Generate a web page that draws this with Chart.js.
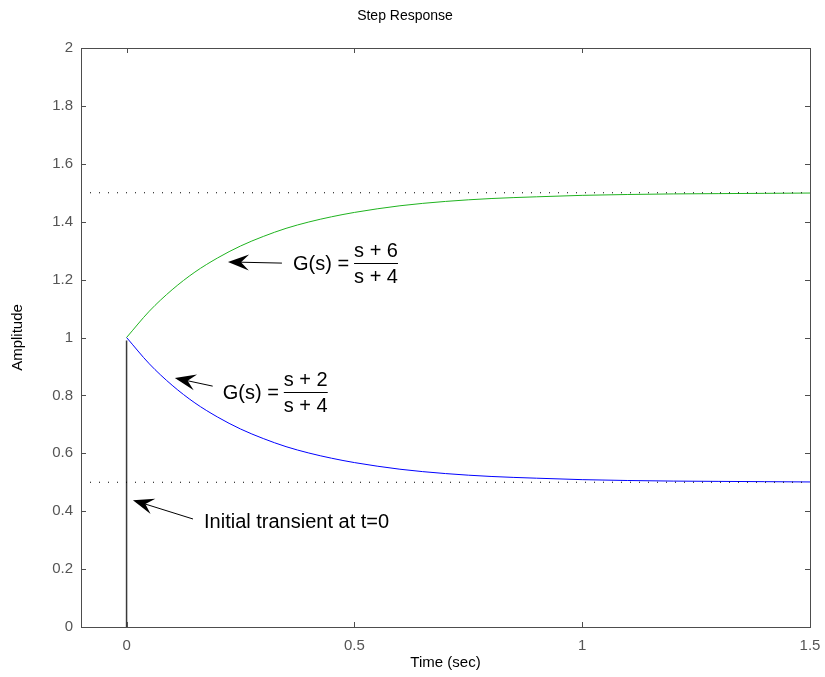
<!DOCTYPE html>
<html>
<head>
<meta charset="utf-8">
<title>Step Response</title>
<script src="https://cdn.jsdelivr.net/npm/chart.js@4/dist/chart.umd.min.js"></script>
<style>
  html, body { margin: 0; padding: 0; background: #fff; }
  #wrap { width: 825px; height: 677px; }
</style>
</head>
<body>
<div id="wrap"><canvas id="chart" width="825" height="677"></canvas></div>
<script>
// data
const timeValues = [0, 0.05, 0.1, 0.15, 0.2, 0.25, 0.3, 0.35, 0.4, 0.45, 0.5,
  0.6, 0.7, 0.8, 0.9, 1.0, 1.1, 1.2, 1.3, 1.4, 1.5];
const upperResponse = [1.0, 1.091, 1.165, 1.226, 1.275, 1.316, 1.349, 1.377, 1.399, 1.417, 1.432,
  1.455, 1.470, 1.480, 1.486, 1.491, 1.494, 1.496, 1.497, 1.498, 1.499];
const lowerResponse = [1.0, 0.909, 0.835, 0.774, 0.725, 0.684, 0.651, 0.623, 0.601, 0.583, 0.568,
  0.545, 0.530, 0.520, 0.514, 0.509, 0.506, 0.504, 0.503, 0.502, 0.501];
const transientTime = [0, 0];
const transientAmp = [0, 0.99];
const steadyLevels = [0.5, 1.5];
const xRange = [-0.1, 1.5];
const yRange = [0, 2];
const xTicks = [0, 0.5, 1, 1.5];
const xTickLabels = ['0', '0.5', '1', '1.5'];
const yTicks = [0, 0.2, 0.4, 0.6, 0.8, 1, 1.2, 1.4, 1.6, 1.8, 2];
const yTickLabels = ['0', '0.2', '0.4', '0.6', '0.8', '1', '1.2', '1.4', '1.6', '1.8', '2'];

// annotations (data coordinates)
const arrows = [
  { from: [0.341, 1.257], to: [0.2226, 1.261] },
  { from: [0.189, 0.832], to: [0.106, 0.860] },
  { from: [0.1458, 0.3731], to: [0.014, 0.438] }
];
const fractionNotes = [
  { at: [0.3652, 1.2573], num: 's + 6', den: 's + 4' },
  { at: [0.211, 0.8117], num: 's + 2', den: 's + 4' }
];
const plainNotes = [
  { at: [0.170, 0.3627], text: 'Initial transient at t=0' }
];

const FONT = 'Helvetica, "Liberation Sans", Arial, sans-serif';
const AXIS_COLOR = '#4d4d4d';

function pts(xs, ys) {
  return xs.map((x, i) => ({ x: x, y: ys[i] }));
}

const steadySets = steadyLevels.map(level => ({
  data: pts(xRange, [level, level]),
  borderColor: '#000',
  borderWidth: 1,
  borderDash: [1, 8],
  pointRadius: 0,
  tension: 0
}));

// frame, inward ticks, arrows and notes
const decorPlugin = {
  id: 'decor',
  afterDatasetsDraw(chart) {
    const { ctx, chartArea: a, scales: { x, y } } = chart;
    ctx.save();
    ctx.strokeStyle = AXIS_COLOR;
    ctx.lineWidth = 1;
    ctx.strokeRect(Math.round(a.left) + 0.5, Math.round(a.top) + 0.5,
      Math.round(a.right - a.left), Math.round(a.bottom - a.top));
    ctx.beginPath();
    xTicks.forEach(v => {
      const px = Math.round(x.getPixelForValue(v)) + 0.5;
      ctx.moveTo(px, a.bottom); ctx.lineTo(px, a.bottom - 5);
      ctx.moveTo(px, a.top); ctx.lineTo(px, a.top + 5);
    });
    yTicks.forEach(v => {
      const py = Math.round(y.getPixelForValue(v)) + 0.5;
      ctx.moveTo(a.left, py); ctx.lineTo(a.left + 5, py);
      ctx.moveTo(a.right, py); ctx.lineTo(a.right - 5, py);
    });
    ctx.stroke();

    // arrows
    ctx.strokeStyle = '#000';
    ctx.fillStyle = '#000';
    arrows.forEach(ar => {
      const x0 = x.getPixelForValue(ar.from[0]), y0 = y.getPixelForValue(ar.from[1]);
      const x1 = x.getPixelForValue(ar.to[0]), y1 = y.getPixelForValue(ar.to[1]);
      const len = Math.hypot(x1 - x0, y1 - y0);
      const ux = (x1 - x0) / len, uy = (y1 - y0) / len;
      const nx = -uy, ny = ux;
      const L = 21, W = 8;
      ctx.beginPath();
      ctx.moveTo(x0, y0);
      ctx.lineTo(x1 - ux * L * 0.6, y1 - uy * L * 0.6);
      ctx.stroke();
      ctx.beginPath();
      ctx.moveTo(x1, y1);
      ctx.lineTo(x1 - ux * L + nx * W, y1 - uy * L + ny * W);
      ctx.lineTo(x1 - ux * L * 0.62, y1 - uy * L * 0.62);
      ctx.lineTo(x1 - ux * L - nx * W, y1 - uy * L - ny * W);
      ctx.closePath();
      ctx.fill();
    });

    // notes
    ctx.font = '20px ' + FONT;
    ctx.textBaseline = 'middle';
    ctx.textAlign = 'left';
    fractionNotes.forEach(n => {
      const px = x.getPixelForValue(n.at[0]);
      const py = y.getPixelForValue(n.at[1]);
      const lead = 'G(s) =';
      ctx.fillText(lead, px, py + 1);
      const fx = px + ctx.measureText(lead).width + 5;
      const w = Math.max(ctx.measureText(n.num).width, ctx.measureText(n.den).width);
      ctx.fillText(n.num, fx, py - 12);
      ctx.fillText(n.den, fx, py + 14);
      ctx.beginPath();
      ctx.lineWidth = 1;
      ctx.moveTo(fx, Math.round(py) + 0.5);
      ctx.lineTo(fx + w, Math.round(py) + 0.5);
      ctx.stroke();
    });
    plainNotes.forEach(n => {
      ctx.fillText(n.text, x.getPixelForValue(n.at[0]), y.getPixelForValue(n.at[1]));
    });
    ctx.restore();
  }
};

const chart = new Chart(document.getElementById('chart'), {
  type: 'line',
  data: {
    datasets: [
      ...steadySets,
      {
        data: pts(transientTime, transientAmp),
        borderColor: '#3a3a3a',
        borderWidth: 1.5,
        pointRadius: 0,
        tension: 0
      },
      {
        data: pts(timeValues, upperResponse),
        borderColor: '#1fb31f',
        borderWidth: 1,
        pointRadius: 0,
        cubicInterpolationMode: 'monotone'
      },
      {
        data: pts(timeValues, lowerResponse),
        borderColor: '#0000ff',
        borderWidth: 1,
        pointRadius: 0,
        cubicInterpolationMode: 'monotone'
      }
    ]
  },
  options: {
    responsive: false,
    animation: false,
    layout: { padding: { left: 0, right: 15, top: 0, bottom: 0 } },
    plugins: {
      legend: { display: false },
      tooltip: { enabled: false },
      title: {
        display: true,
        text: 'Step Response',
        color: '#000',
        font: { family: FONT, size: 14, weight: 'normal' },
        padding: { top: 8, bottom: 23.2 }
      }
    },
    scales: {
      x: {
        type: 'linear',
        min: xRange[0],
        max: xRange[1],
        grid: { display: false, drawTicks: false },
        border: { display: false },
        afterBuildTicks: s => { s.ticks = xTicks.map(v => ({ value: v })); },
        afterFit: s => { s.height = 50; s.paddingLeft = 0; s.paddingRight = 0; },
        ticks: {
          color: '#555',
          padding: 10,
          font: { family: FONT, size: 15 },
          maxRotation: 0,
          callback: (v) => xTickLabels[xTicks.indexOf(v)]
        },
        title: {
          display: true,
          text: 'Time (sec)',
          color: '#000',
          font: { family: FONT, size: 15 },
          padding: { top: 0, bottom: 5 }
        }
      },
      y: {
        type: 'linear',
        min: yRange[0],
        max: yRange[1],
        grid: { display: false, drawTicks: false },
        border: { display: false },
        afterBuildTicks: s => { s.ticks = yTicks.map(v => ({ value: v })); },
        afterFit: s => { s.width = 81; s.paddingTop = 0; s.paddingBottom = 0; },
        ticks: {
          color: '#555',
          padding: 8,
          font: { family: FONT, size: 15 },
          callback: (v) => yTickLabels[yTicks.indexOf(v)]
        },
        title: {
          display: true,
          text: 'Amplitude',
          color: '#000',
          font: { family: FONT, size: 15 },
          padding: { top: 9, bottom: 0 }
        }
      }
    }
  },
  plugins: [decorPlugin]
});
</script>
</body>
</html>
